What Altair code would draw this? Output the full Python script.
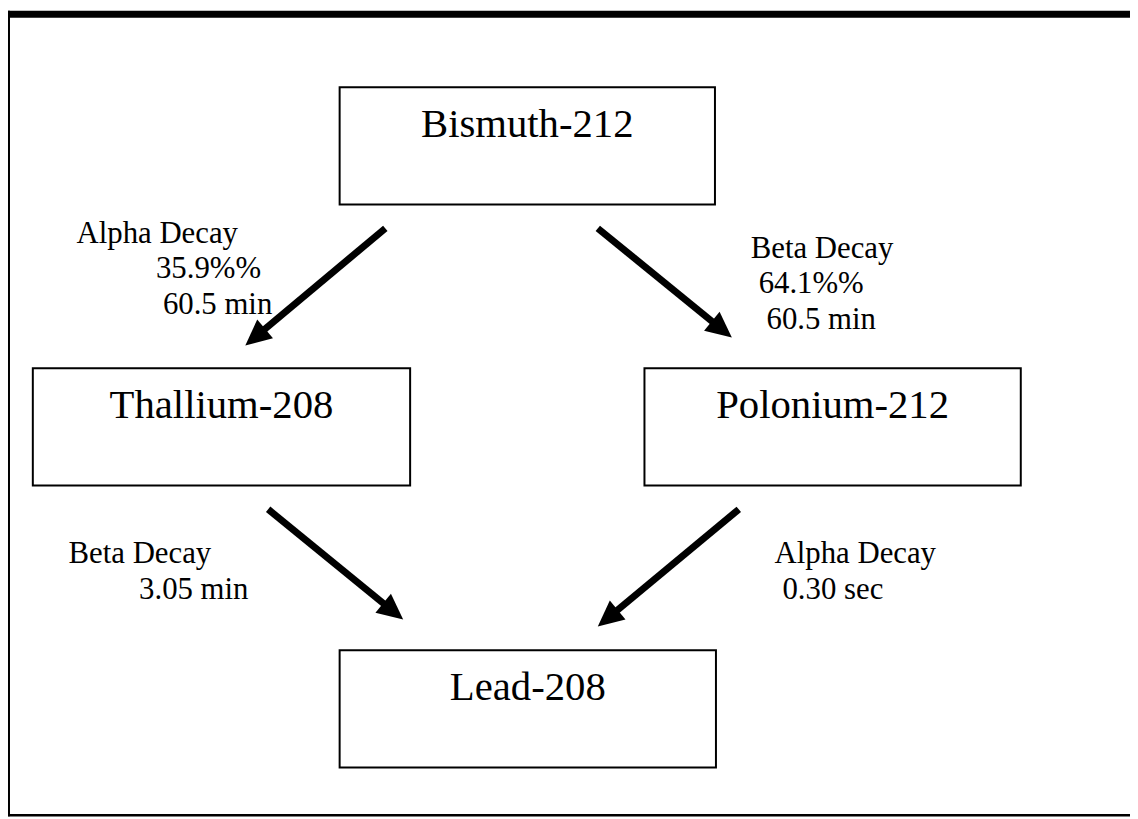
import math
import altair as alt
import pandas as pd

# ---- diagram content ----
node_names = ["Bismuth-212", "Thallium-208", "Polonium-212", "Lead-208"]
node_left = [342, 33, 649, 342]
node_right = [720, 413, 1028, 721]
node_top = [85, 368, 368, 652]
node_bottom = [203, 486, 486, 770]

arrow_from_x = [388, 602, 270, 744]
arrow_from_y = [227, 227, 510, 510]
arrow_to_x = [247, 737, 406, 602]
arrow_to_y = [345, 337, 621, 628]

label_text = ["Alpha Decay", "35.9%%", "60.5 min",
              "Beta Decay", "64.1%%", "60.5 min",
              "Beta Decay", "3.05 min",
              "Alpha Decay", "0.30 sec"]
label_x = [77, 157, 164, 756, 764, 772, 69, 140, 780, 788]
label_y = [242, 277, 313, 257, 292, 328, 564, 600, 564, 600]

frame_x1 = [4, 7, 4]
frame_y1 = [11.5, 8, 818]
frame_x2 = [1138, 7, 1138]
frame_y2 = [11.5, 819, 818]
frame_w = [7, 6, 2.5]

# ---- derived tables ----
W, H = 1130, 811
xs = alt.Scale(domain=[8, 8 + W], range=[0, W], nice=False, zero=False)
ys = alt.Scale(domain=[8, 8 + H], range=[0, H], nice=False, zero=False)

nodes = pd.DataFrame({"name": node_names, "x": node_left, "x2": node_right,
                      "y": node_top, "y2": node_bottom})
nodes["cx"] = (nodes["x"] + nodes["x2"]) / 2
nodes["ty"] = nodes["y"] + 50

HEAD = 26
rows = []
for fx, fy, tx, ty in zip(arrow_from_x, arrow_from_y, arrow_to_x, arrow_to_y):
    dx, dy = tx - fx, ty - fy
    d = math.hypot(dx, dy)
    ux, uy = dx / d, dy / d
    rows.append({
        "x": fx, "y": fy,
        "x2": tx - ux * HEAD * 0.7, "y2": ty - uy * HEAD * 0.7,
        "hx": tx - ux * HEAD / 2, "hy": ty - uy * HEAD / 2,
        "ang": math.degrees(math.atan2(dx, -dy)) % 360,
    })
arrows = pd.DataFrame(rows)

labels = pd.DataFrame({"t": label_text, "x": label_x, "y": label_y})
frame = pd.DataFrame({"x": frame_x1, "y": frame_y1, "x2": frame_x2,
                      "y2": frame_y2, "w": frame_w})

FONT = "Liberation Serif"

frame_layer = alt.Chart(frame).mark_rule(color="black", strokeCap="butt").encode(
    x=alt.X("x:Q", scale=xs, axis=None), y=alt.Y("y:Q", scale=ys, axis=None),
    x2="x2:Q", y2="y2:Q", size=alt.Size("w:Q", scale=None, legend=None))

box_layer = alt.Chart(nodes).mark_rect(fill="white", stroke="black", strokeWidth=2).encode(
    x=alt.X("x:Q", scale=xs, axis=None), x2="x2:Q",
    y=alt.Y("y:Q", scale=ys, axis=None), y2="y2:Q")

box_text = alt.Chart(nodes).mark_text(font=FONT, fontSize=41, align="center",
                                      baseline="alphabetic", color="black").encode(
    x=alt.X("cx:Q", scale=xs, axis=None), y=alt.Y("ty:Q", scale=ys, axis=None), text="name:N")

shaft = alt.Chart(arrows).mark_rule(color="black", strokeWidth=7, strokeCap="butt").encode(
    x=alt.X("x:Q", scale=xs, axis=None), y=alt.Y("y:Q", scale=ys, axis=None),
    x2="x2:Q", y2="y2:Q")

head = alt.Chart(arrows).mark_point(shape="M0,-1L0.95,1L-0.95,1Z", filled=True,
                                    color="black", opacity=1, size=HEAD * HEAD,
                                    strokeWidth=0).encode(
    x=alt.X("hx:Q", scale=xs, axis=None), y=alt.Y("hy:Q", scale=ys, axis=None),
    angle=alt.Angle("ang:Q", scale=None))

label_layer = alt.Chart(labels).mark_text(font=FONT, fontSize=31, align="left",
                                          baseline="alphabetic", color="black").encode(
    x=alt.X("x:Q", scale=xs, axis=None), y=alt.Y("y:Q", scale=ys, axis=None), text="t:N")

chart = alt.layer(frame_layer, box_layer, box_text, shaft, head, label_layer).properties(
    width=W, height=H, padding=0, autosize="none", background="white"
).configure_view(stroke=None)

chart.save("out.html", embed_options={"renderer": "svg", "actions": False})
